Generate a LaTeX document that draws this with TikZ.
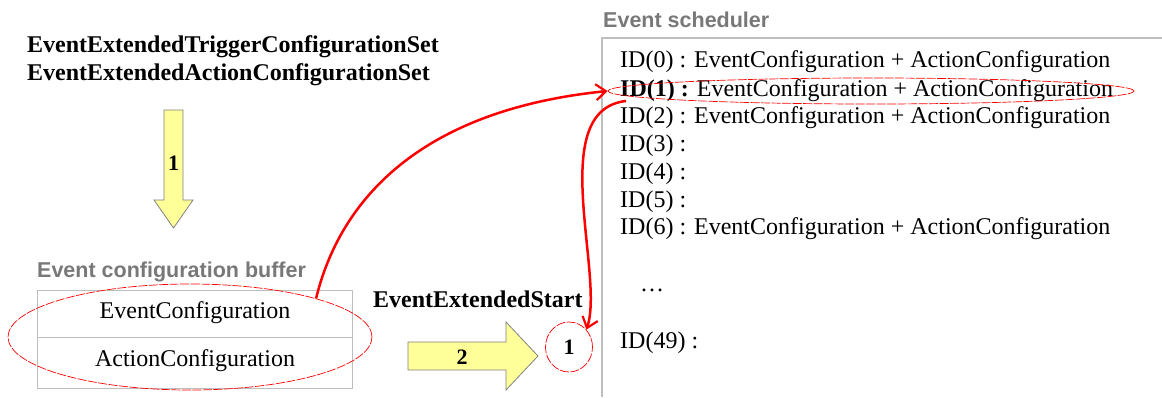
\documentclass[tikz,border=0pt]{standalone}
\usepackage{fontspec}
\setmainfont{Liberation Serif}
\setsansfont{Liberation Sans}
\usetikzlibrary{shapes.geometric,arrows.meta}
\definecolor{yel}{RGB}{255,255,153}
\definecolor{lbl}{RGB}{120,120,120}
\definecolor{frame}{RGB}{190,190,190}
\begin{document}
\begin{tikzpicture}[x=1pt,y=-1pt,
  titletext/.style={font=\fontsize{24}{24}\selectfont\bfseries, anchor=west, inner sep=0},
  bodytext/.style={font=\fontsize{24}{24}\selectfont, inner sep=0},
  rowtext/.style={bodytext, anchor=west},
  graylabel/.style={font=\sffamily\bfseries\fontsize{21.5}{21.5}\selectfont, text=lbl, anchor=west, inner sep=0},
  yarrow/.style={draw=gray, fill=yel, line width=0.8pt},
  redellipse/.style={ellipse, draw=red, line width=0.7pt, dash pattern=on 9pt off 1.5pt, inner sep=0},
  redarrow/.style={draw=red, line width=2.5pt, -{Straight Barb[length=10pt,width=16pt,line width=2.2pt]}}
]
\useasboundingbox (0,0) rectangle (1162,397);

% titles
\node[titletext] (t1) at (27,47) {EventExtendedTriggerConfigurationSet};
\node[titletext] (t2) at (27,75) {EventExtendedActionConfigurationSet};

% yellow arrow 1
\draw[yarrow] (164,110) -- (183,110) -- (183,200) -- (193,200) -- (173.5,228) -- (154,200) -- (164,200) -- cycle;
\node[font=\fontsize{22}{22}\selectfont\bfseries] (a1) at (173.5,163) {1};

% event configuration buffer
\node[graylabel] (buflbl) at (37,272) {Event configuration buffer};
\draw[frame, line width=1pt] (37,290) rectangle (352,388);
\draw[frame, line width=1pt] (37,337) -- (352,337);
\node[bodytext] (ec) at (195,313) {EventConfiguration};
\node[bodytext] (ac) at (195,361) {ActionConfiguration};
\node[redellipse, minimum width=364pt, minimum height=106pt] (bufell) at (190,337) {};

% EventExtendedStart
\node[titletext] (ees) at (373,299) {EventExtendedStart};

% yellow arrow 2
\draw[yarrow] (408,342) -- (506,342) -- (506,322) -- (538,356) -- (506,390) -- (506,370) -- (408,370) -- cycle;
\node[font=\fontsize{22}{22}\selectfont\bfseries] (a2) at (462,357) {2};

% circle 1
\node[redellipse, minimum width=47pt, minimum height=50pt, font=\fontsize{22}{22}\selectfont\bfseries] (circ) at (569,347) {1};

% event scheduler
\node[graylabel] (schlbl) at (603,20) {Event scheduler};
\draw[frame, line width=1.2pt] (1162,38) -- (602,38) -- (602,397);

\node[rowtext] (r0) at (620,62) {ID(0) : EventConfiguration + ActionConfiguration};
\node[rowtext] (r1) at (620,91) {\textbf{ID(1) :} EventConfiguration + ActionConfiguration};
\node[rowtext] (r2) at (620,118) {ID(2) : EventConfiguration + ActionConfiguration};
\node[rowtext] (r3) at (620,146) {ID(3) :};
\node[rowtext] (r4) at (620,174) {ID(4) :};
\node[rowtext] (r5) at (620,202) {ID(5) :};
\node[rowtext] (r6) at (620,229) {ID(6) : EventConfiguration + ActionConfiguration};
\node[rowtext] (dots) at (640,290) {\dots};
\node[rowtext] (r49) at (620,343) {ID(49) :};

\node[redellipse, minimum width=526pt, minimum height=26pt] (idell) at (871,91) {};

% red arrows
\draw[redarrow] (bufell.17) .. controls (340,200) and (420,110) .. (idell.west);
\coordinate (bstart) at (626,101);
\draw[redarrow] (bstart) .. controls (545,110) and (605,275) .. (circ.45);
\end{tikzpicture}
\end{document}
